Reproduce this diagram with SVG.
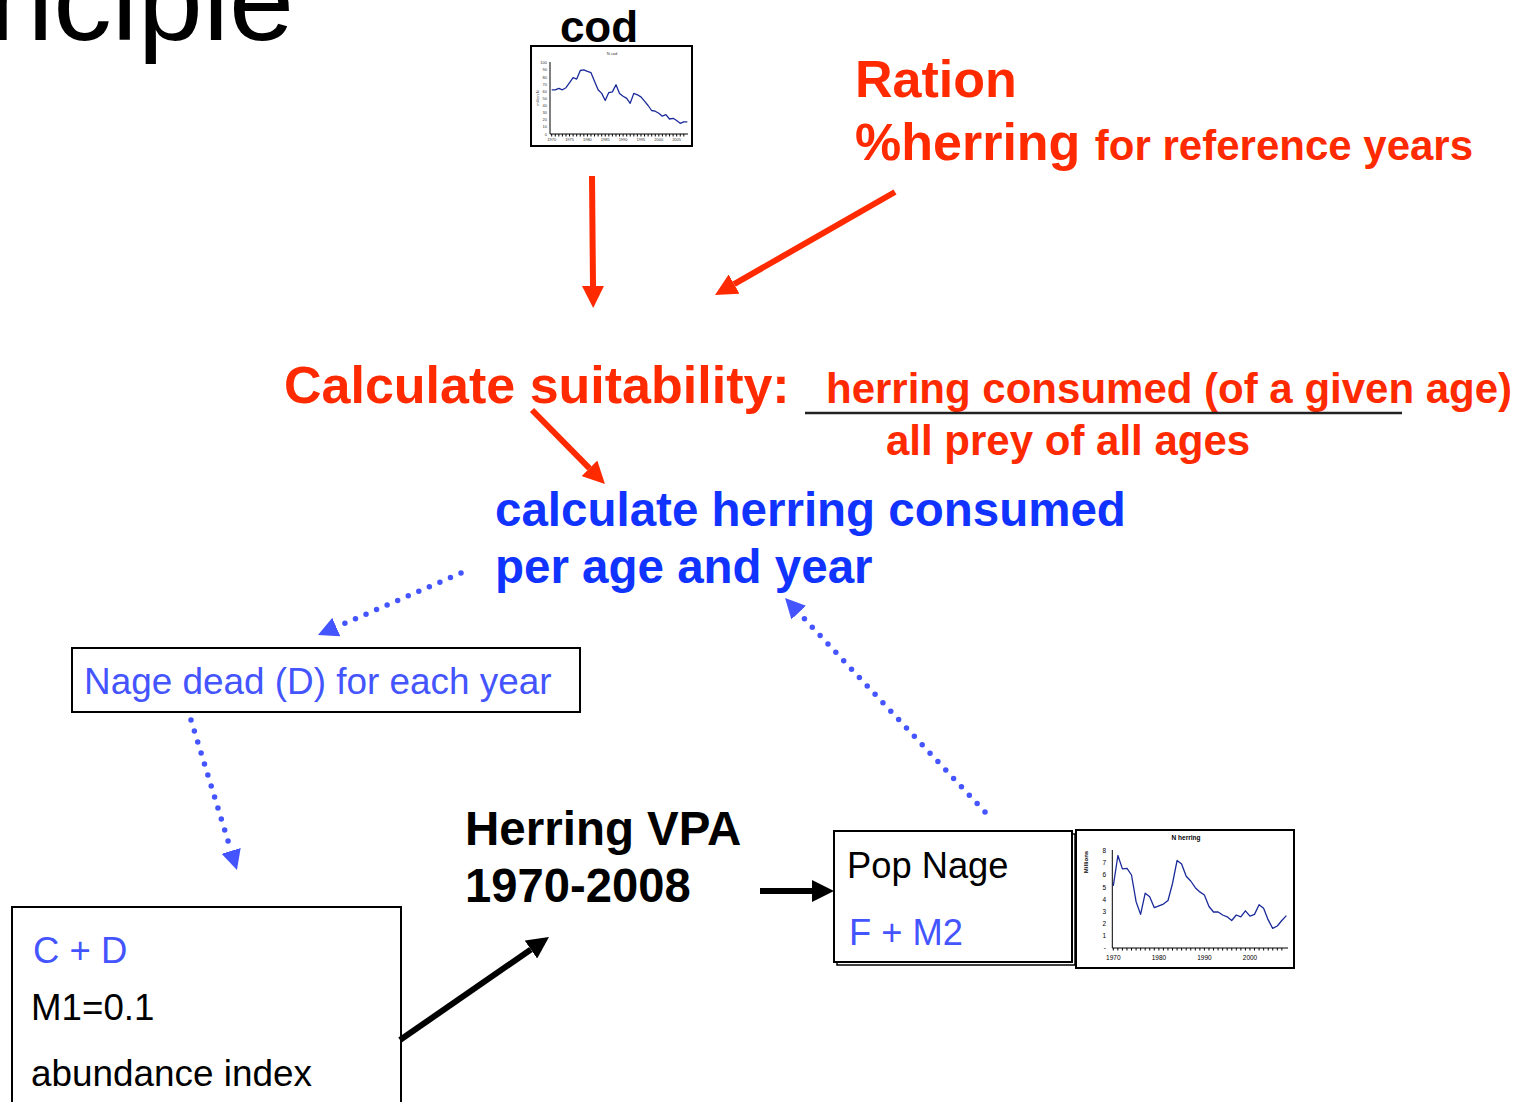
<svg xmlns="http://www.w3.org/2000/svg" width="1527" height="1102" viewBox="0 0 1527 1102">
<style>
text{font-family:"Liberation Sans",Arial,sans-serif}
.b{font-weight:bold}
.red{fill:#FF2A00}
.blue{fill:#1133FF}
.lb{fill:#4455FF}
.blk{fill:#000}
.box{fill:#fff;stroke:#000;stroke-width:2}
.ra{stroke:#FF2A00;stroke-width:6;fill:none}
.ka{stroke:#000;stroke-width:6;fill:none}
.da{stroke:#4455FF;stroke-width:5.5;fill:none;stroke-dasharray:0 11.5;stroke-linecap:round}
.ax{stroke:#000;stroke-width:1;fill:none}
.ser{stroke:#1A2A9A;stroke-width:1.3;fill:none;stroke-linejoin:round}
.tiny{font-size:4px;fill:#333}
.sm{font-size:6.5px;fill:#000}
</style>
<defs>
<marker id="mr" markerUnits="userSpaceOnUse" viewBox="0 0 10 10" refX="0" refY="5" markerWidth="22" markerHeight="22" orient="auto"><path d="M0,0 L10,5 L0,10 z" fill="#FF2A00"/></marker>
<marker id="mk" markerUnits="userSpaceOnUse" viewBox="0 0 10 10" refX="0" refY="5" markerWidth="22" markerHeight="22" orient="auto"><path d="M0,0 L10,5 L0,10 z" fill="#000"/></marker>
<marker id="mb" markerUnits="userSpaceOnUse" viewBox="0 0 10 10" refX="0" refY="5" markerWidth="20" markerHeight="22" orient="auto"><path d="M0,0 L10,5 L0,10 z" fill="#4455FF"/></marker>
</defs>

<g id="title"><text x="294" y="40" font-size="117" text-anchor="end" class="blk">nciple</text></g>

<g id="cod">
<text x="599" y="42" font-size="44" class="b blk" text-anchor="middle">cod</text>
<rect x="531" y="46" width="161" height="100" class="box" stroke-width="1.5"/>
<text x="612" y="55" class="tiny" text-anchor="middle">N cod</text>
<text transform="translate(539,98) rotate(-90)" class="tiny" text-anchor="middle">million N</text>
<path class="ax" d="M550,62V134H688"/>
<g class="tiny" text-anchor="end">
<text x="547" y="135.5">0</text><text x="547" y="128.4">10</text><text x="547" y="121.2">20</text><text x="547" y="114.1">30</text><text x="547" y="107">40</text><text x="547" y="99.9">50</text><text x="547" y="92.7">60</text><text x="547" y="85.6">70</text><text x="547" y="78.5">80</text><text x="547" y="71.3">90</text><text x="547" y="64.2">100</text>
</g>
<path class="ax" stroke-width="0.7" d="M551.7,134v2.5m3.571,-2.5v2.5m3.571,-2.5v2.5m3.571,-2.5v2.5m3.571,-2.5v2.5m3.571,-2.5v2.5m3.571,-2.5v2.5m3.571,-2.5v2.5m3.571,-2.5v2.5m3.571,-2.5v2.5m3.571,-2.5v2.5m3.571,-2.5v2.5m3.571,-2.5v2.5m3.571,-2.5v2.5m3.571,-2.5v2.5m3.571,-2.5v2.5m3.571,-2.5v2.5m3.571,-2.5v2.5m3.571,-2.5v2.5m3.571,-2.5v2.5m3.571,-2.5v2.5m3.571,-2.5v2.5m3.571,-2.5v2.5m3.571,-2.5v2.5m3.571,-2.5v2.5m3.571,-2.5v2.5m3.571,-2.5v2.5m3.571,-2.5v2.5m3.571,-2.5v2.5m3.571,-2.5v2.5m3.571,-2.5v2.5m3.571,-2.5v2.5m3.571,-2.5v2.5m3.571,-2.5v2.5m3.571,-2.5v2.5m3.571,-2.5v2.5m3.571,-2.5v2.5m3.571,-2.5v2.5"/>
<g class="tiny" text-anchor="middle">
<text x="551.7" y="141">1970</text><text x="569.6" y="141">1975</text><text x="587.4" y="141">1980</text><text x="605.2" y="141">1985</text><text x="623.1" y="141">1990</text><text x="640.9" y="141">1995</text><text x="658.8" y="141">2000</text><text x="676.6" y="141">2005</text>
</g>
<polyline class="ser" points="551.7,89.8 555.3,89.8 558.8,88.4 562.4,89.8 566,87.7 569.6,82.7 573.1,77.7 576.7,79.1 580.3,70.5 583.8,69.8 587.4,71.3 591,72.7 594.5,81.2 598.1,89.8 601.7,93.4 605.2,100.5 608.8,92.6 612.4,91.9 616,84.8 619.5,93.4 623.1,96.2 626.7,98.4 630.2,103.3 633.8,93.4 637.4,94.8 640.9,96.9 644.5,101.2 648.1,105.5 651.6,110.5 655.2,111.2 658.8,113.3 662.3,116.2 665.9,114.7 669.5,119 673.1,118.3 676.6,120.5 680.2,123.3 683.8,121.9 687.3,121.9"/>
</g>

<g id="ration">
<text x="855" y="97" font-size="52" class="b red">Ration</text>
<text x="855" y="160" font-size="52" class="b red">%herring <tspan font-size="42">for reference years</tspan></text>
</g>

<g id="suitability">
<text x="284" y="403" font-size="52" class="b red">Calculate suitability:</text>
<text x="826" y="403" font-size="42" class="b red">herring consumed (of a given age)</text>
<line x1="805" y1="413" x2="1402" y2="413" stroke="#222" stroke-width="2.5"/>
<text x="886" y="455" font-size="42" class="b red">all prey of all ages</text>
</g>

<g id="consumed">
<text x="495" y="526" font-size="47.5" class="b blue">calculate herring consumed</text>
<text x="495" y="583" font-size="47.5" class="b blue">per age and year</text>
</g>

<g id="nagedead">
<rect x="72" y="648" width="508" height="64" class="box"/>
<text x="84" y="694" font-size="36.9" class="lb">Nage dead (D) for each year</text>
</g>

<g id="inputs">
<rect x="12" y="907" width="389" height="200" class="box"/>
<text x="33" y="963" font-size="36.5" class="lb">C + D</text>
<text x="31" y="1020" font-size="36.7" class="blk">M1=0.1</text>
<text x="31" y="1086" font-size="36.9" class="blk">abundance index</text>
</g>

<g id="vpa">
<text x="465" y="845" font-size="47.5" class="b blk">Herring VPA</text>
<text x="465" y="902" font-size="47.2" class="b blk">1970-2008</text>
</g>

<g id="popnage">
<rect x="837" y="834" width="238" height="131" fill="none" stroke="#000" stroke-width="1.5"/>
<rect x="834" y="831" width="238" height="131" class="box"/>
<text x="847" y="878" font-size="36.3" class="blk">Pop Nage</text>
<text x="849" y="945" font-size="36.3" class="lb">F + M2</text>
</g>

<g id="herringchart">
<rect x="1076" y="830" width="218" height="138" class="box"/>
<text x="1186" y="840" font-size="6.5" class="b blk" text-anchor="middle">N herring</text>
<text transform="translate(1088,862) rotate(-90)" font-size="6" class="b blk" text-anchor="middle">Millions</text>
<path class="ax" d="M1112.3,850V948H1288"/>
<g class="sm" text-anchor="end">
<text x="1106" y="950">-</text><text x="1106" y="938">1</text><text x="1106" y="926">2</text><text x="1106" y="913.7">3</text><text x="1106" y="901.6">4</text><text x="1106" y="889.5">5</text><text x="1106" y="877.3">6</text><text x="1106" y="865.2">7</text><text x="1106" y="853">8</text>
</g>
<path class="ax" stroke-width="0.7" d="M1113.3,948v2.5m4.556,-2.5v2.5m4.556,-2.5v2.5m4.556,-2.5v2.5m4.556,-2.5v2.5m4.556,-2.5v2.5m4.556,-2.5v2.5m4.556,-2.5v2.5m4.556,-2.5v2.5m4.556,-2.5v2.5m4.556,-2.5v2.5m4.556,-2.5v2.5m4.556,-2.5v2.5m4.556,-2.5v2.5m4.556,-2.5v2.5m4.556,-2.5v2.5m4.556,-2.5v2.5m4.556,-2.5v2.5m4.556,-2.5v2.5m4.556,-2.5v2.5m4.556,-2.5v2.5m4.556,-2.5v2.5m4.556,-2.5v2.5m4.556,-2.5v2.5m4.556,-2.5v2.5m4.556,-2.5v2.5m4.556,-2.5v2.5m4.556,-2.5v2.5m4.556,-2.5v2.5m4.556,-2.5v2.5m4.556,-2.5v2.5m4.556,-2.5v2.5m4.556,-2.5v2.5m4.556,-2.5v2.5m4.556,-2.5v2.5m4.556,-2.5v2.5m4.556,-2.5v2.5m4.556,-2.5v2.5"/>
<g class="sm" text-anchor="middle">
<text x="1113.3" y="960">1970</text><text x="1158.9" y="960">1980</text><text x="1204.4" y="960">1990</text><text x="1250" y="960">2000</text>
</g>
<polyline class="ser" stroke-width="1.6" points="1113.3,885.9 1117.9,855.5 1122.4,868.9 1127,868.3 1131.5,875 1136.1,901.7 1140.6,914.4 1145.2,893.2 1149.7,896.8 1154.3,907.7 1158.9,905.9 1163.4,904.1 1168,900.5 1172.5,883.5 1177.1,860.4 1181.6,864 1186.2,876.2 1190.7,881 1195.3,887.7 1199.8,891.9 1204.4,895 1209,906.5 1213.5,912 1218.1,912 1222.6,915 1227.2,916.8 1231.7,920.5 1236.3,915 1240.8,916.8 1245.4,910.8 1250,916.2 1254.5,914.4 1259.1,904.7 1263.6,908.3 1268.2,919.9 1272.7,928.4 1277.3,926 1281.8,920.5 1286.4,915.6"/>
</g>

<g id="connectors">
<line class="ra" x1="592" y1="176" x2="593" y2="286" marker-end="url(#mr)"/>
<line class="ra" x1="895" y1="192" x2="734.1" y2="284.1" marker-end="url(#mr)"/>
<line class="ra" x1="532" y1="410" x2="589.5" y2="468.3" marker-end="url(#mr)"/>
<line class="da" x1="461" y1="573" x2="336.3" y2="627" marker-end="url(#mb)"/>
<line class="da" x1="985" y1="812" x2="798.7" y2="612.6" marker-end="url(#mb)"/>
<line class="da" x1="191" y1="720" x2="231.1" y2="850.9" marker-end="url(#mb)"/>
<line class="ka" x1="760" y1="891" x2="812" y2="891" marker-end="url(#mk)"/>
<line class="ka" x1="400" y1="1040" x2="530.9" y2="949.5" marker-end="url(#mk)"/>
</g>
</svg>
